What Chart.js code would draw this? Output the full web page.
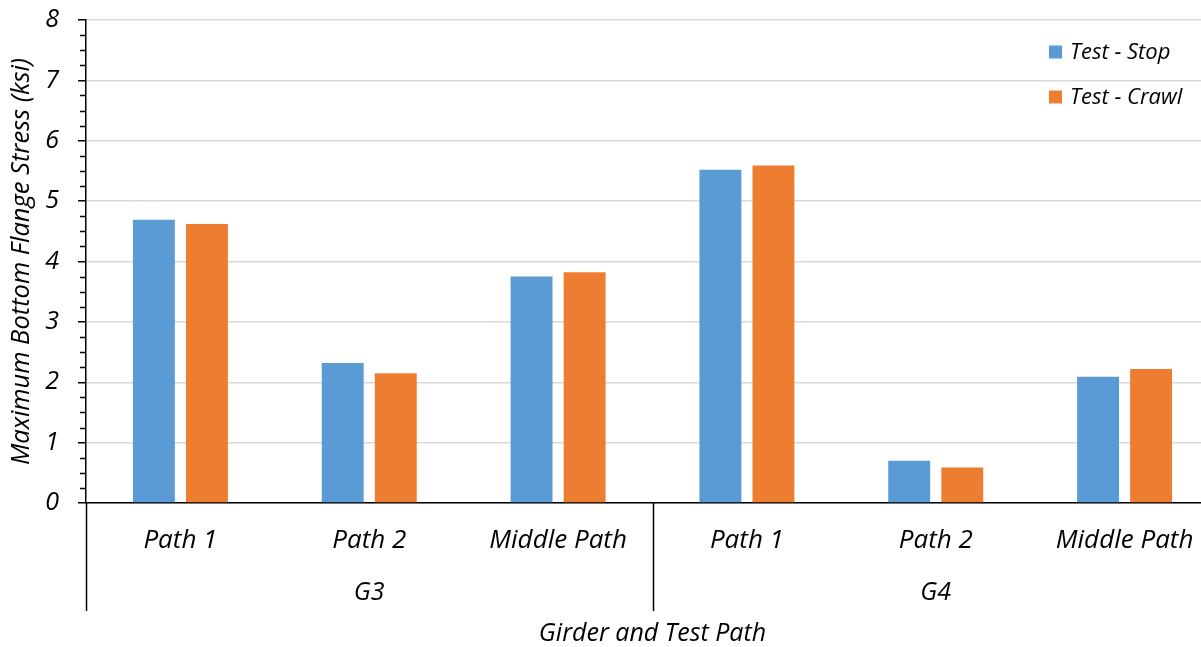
<!DOCTYPE html>
<html>
<head>
<meta charset="utf-8">
<script src="https://cdn.jsdelivr.net/npm/chart.js@4/dist/chart.umd.min.js"></script>
<style>
html,body{margin:0;padding:0;background:#fff;overflow:hidden;width:1201px;height:647px;}
#wrap{width:1219px;height:647px;position:relative;}
</style>
</head>
<body>
<div id="wrap"><canvas id="c"></canvas></div>
<script>
const categories = ['Path 1', 'Path 2', 'Middle Path', 'Path 1', 'Path 2', 'Middle Path'];
const groupNames = ['G3', 'G4'];
const groupSizes = [3, 3];
const testStop = [4.69, 2.32, 3.75, 5.52, 0.70, 2.09];
const testCrawl = [4.62, 2.15, 3.82, 5.59, 0.59, 2.22];
const seriesNames = ['Test - Stop', 'Test - Crawl'];
const yMin = 0, yMax = 8, yStep = 1, yMinorStep = 0.25;
const yTitle = 'Maximum Bottom Flange Stress (ksi)';
const xTitle = 'Girder and Test Path';

const FONT = "'Open Sans', Lato, sans-serif";
const colors = ['#5b9bd5', '#ed7d31'];

const extrasPlugin = {
  id: 'extras',
  afterDraw(chart) {
    const ctx = chart.ctx;
    const x = chart.scales.x, y = chart.scales.y;
    const area = chart.chartArea;
    ctx.save();
    // minor ticks on y axis
    ctx.strokeStyle = '#000';
    ctx.lineWidth = 1.5;
    for (let v = yMin; v <= yMax + 1e-9; v += yMinorStep) {
      if (Math.abs(v - Math.round(v)) < 1e-9) continue;
      const py = Math.round(y.getPixelForValue(v)) + 0.5;
      ctx.beginPath();
      ctx.moveTo(area.left - 6, py);
      ctx.lineTo(area.left, py);
      ctx.stroke();
    }
    // group separators and group labels
    const sepBottom = 611;
    let idx = 0;
    const bounds = [];
    const half = (x.getPixelForValue(1) - x.getPixelForValue(0)) / 2;
    bounds.push(x.getPixelForValue(0) - half);
    groupSizes.forEach(n => { idx += n; bounds.push(x.getPixelForValue(idx - 1) + half); });
    ctx.lineWidth = 1.5;
    bounds.forEach((bx) => {
      const px = Math.round(bx) + 0.5;
      ctx.beginPath();
      ctx.moveTo(px, area.bottom);
      ctx.lineTo(px, sepBottom);
      ctx.stroke();
    });
    ctx.fillStyle = '#000';
    ctx.font = 'italic 25px ' + FONT;
    ctx.textAlign = 'center';
    ctx.textBaseline = 'middle';
    groupNames.forEach((g, i) => {
      ctx.fillText(g, (bounds[i] + bounds[i + 1]) / 2, 593);
    });
    // legend
    ctx.font = 'italic 22px ' + FONT;
    ctx.textAlign = 'left';
    const legY = [52, 97];
    seriesNames.forEach((s, i) => {
      ctx.fillStyle = colors[i];
      ctx.fillRect(1049, legY[i] - 6.5, 13, 13);
      ctx.fillStyle = '#000';
      ctx.fillText(s, 1070, legY[i] + 1);
    });
    ctx.restore();
  }
};

new Chart(document.getElementById('c'), {
  type: 'bar',
  data: {
    labels: categories,
    datasets: [
      { label: seriesNames[0], data: testStop, backgroundColor: colors[0], categoryPercentage: 0.562, barPercentage: 0.79 },
      { label: seriesNames[1], data: testCrawl, backgroundColor: colors[1], categoryPercentage: 0.562, barPercentage: 0.79 }
    ]
  },
  options: {
    responsive: true,
    maintainAspectRatio: false,
    devicePixelRatio: 1,
    animation: false,
    layout: { padding: { top: 20, right: 0, left: 0, bottom: 0 } },
    plugins: { legend: { display: false }, tooltip: { enabled: false } },
    scales: {
      x: {
        type: 'category',
        grid: { display: false, drawTicks: false },
        border: { display: true, color: '#000', width: 1.5 },
        ticks: { color: '#000', font: { family: FONT, size: 26, style: 'italic' }, padding: 22, maxRotation: 0, autoSkip: false },
        title: { display: true, text: xTitle, color: '#000', font: { family: FONT, size: 25, style: 'italic', lineHeight: 1.05 }, padding: { top: 0, bottom: 0 } },
        afterFit(scale) { scale.height = 144; scale.paddingLeft = 0; scale.paddingRight = 0; }
      },
      y: {
        min: yMin, max: yMax,
        grid: { color: '#d9d9d9', lineWidth: 1.5, drawTicks: true, tickLength: 8, tickColor: '#000', tickWidth: 1.5 },
        border: { display: true, color: '#000', width: 1.5 },
        ticks: { stepSize: yStep, color: '#000', font: { family: FONT, size: 25, style: 'italic' }, padding: 19 },
        title: { display: true, text: yTitle, color: '#000', font: { family: FONT, size: 25.5, style: 'italic' }, padding: { top: 6, bottom: 0 } },
        afterFit(scale) { scale.width = 86; scale.paddingTop = 0; scale.paddingBottom = 0; }
      }
    }
  },
  plugins: [extrasPlugin]
});
</script>
</body>
</html>
